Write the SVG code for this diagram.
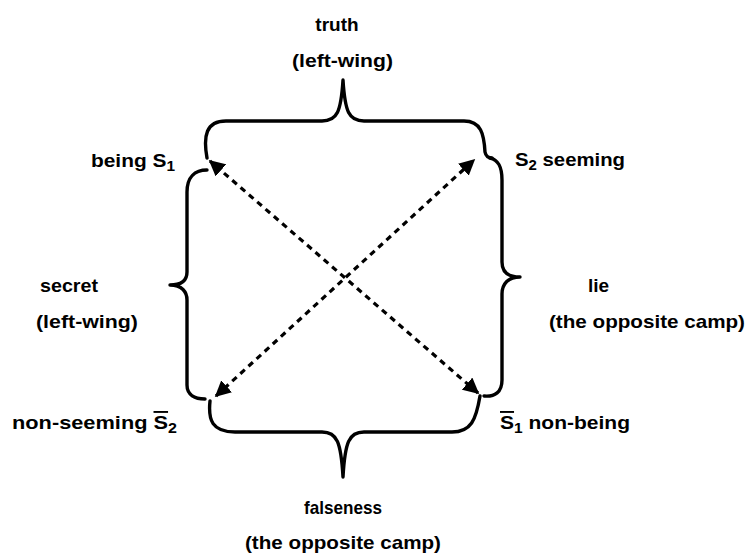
<svg xmlns="http://www.w3.org/2000/svg" width="750" height="556" viewBox="0 0 750 556">
<style>
.lbl{font-family:"Liberation Sans",Arial,sans-serif;font-weight:bold;font-size:19px;fill:#000}
.mid{text-anchor:middle}
.brace{fill:none;stroke:#000;stroke-width:3.4;stroke-linecap:round;stroke-linejoin:round}
.arr{fill:none;stroke:#000;stroke-width:3.2;stroke-dasharray:6,5}
.sub{font-size:14px}
</style>
<defs>
<marker id="ah" viewBox="0 0 10 10" refX="9" refY="5" markerWidth="5" markerHeight="5" markerUnits="strokeWidth" orient="auto-start-reverse">
<path d="M0,0 L10,5 L0,10 z" fill="#000"/>
</marker>
</defs>
<rect width="750" height="556" fill="#fff"/>
<g id="braces">
<g id="top-brace"><path class="brace" d="M207,158 C203,136 206,121 226,121 L322,121 C337,121 341,112 343,80 C345,112 349,121 364,121 L464,121 C481,121 484,134 485,152 C486,157 489,158 492,158"/></g>
<g id="right-brace"><path class="brace" d="M490,158 C498,160 502,166 502,180 L502,262 C502,272 508,277 520,277 C508,277 502,284 502,294 L502,380 C502,392 495,397 484,396"/></g>
<g id="left-brace"><path class="brace" d="M207,170 C195,170 187,177 187,192 L187,272 C187,280 182,285 170,285 C182,285 187,292 187,300 L187,385 C187,395 195,399 205,399"/></g>
<g id="bottom-brace"><path class="brace" d="M210,401 C208,420 212,432 235,432 L322,432 C337,432 341,442 343,477 C345,442 349,432 364,432 L452,432 C471,432 476,420 480,396"/></g>
</g>
<g id="connectors">
<line class="arr" x1="478" y1="393" x2="210" y2="161" marker-start="url(#ah)" marker-end="url(#ah)"/>
<line class="arr" x1="216" y1="396" x2="474" y2="160" marker-start="url(#ah)" marker-end="url(#ah)"/>
</g>
<g id="truth"><text class="lbl mid" x="337" y="31">truth</text><text class="lbl" x="292" y="67" textLength="101" lengthAdjust="spacingAndGlyphs">(left-wing)</text></g>
<g id="being"><text class="lbl" x="91" y="167" textLength="84" lengthAdjust="spacingAndGlyphs">being S<tspan class="sub" dy="4">1</tspan></text></g>
<g id="seeming"><text class="lbl" x="515" y="166" textLength="110" lengthAdjust="spacingAndGlyphs">S<tspan class="sub" dy="4">2</tspan><tspan dy="-4"> seeming</tspan></text></g>
<g id="secret"><text class="lbl" x="40" y="292" textLength="58" lengthAdjust="spacingAndGlyphs">secret</text><text class="lbl" x="36" y="328" textLength="102" lengthAdjust="spacingAndGlyphs">(left-wing)</text></g>
<g id="lie"><text class="lbl" x="588" y="292">lie</text><text class="lbl" x="549" y="328" textLength="196" lengthAdjust="spacingAndGlyphs">(the opposite camp)</text></g>
<g id="non-seeming"><text class="lbl" x="12" y="429" textLength="165" lengthAdjust="spacingAndGlyphs">non-seeming <tspan text-decoration="overline">S</tspan><tspan class="sub" dy="4">2</tspan></text></g>
<g id="non-being"><text class="lbl" x="500" y="429" textLength="130" lengthAdjust="spacingAndGlyphs"><tspan text-decoration="overline">S</tspan><tspan class="sub" dy="4">1</tspan><tspan dy="-4"> non-being</tspan></text></g>
<g id="falseness"><text class="lbl mid" x="343" y="514" textLength="78" lengthAdjust="spacingAndGlyphs">falseness</text><text class="lbl mid" x="343" y="549" textLength="196" lengthAdjust="spacingAndGlyphs">(the opposite camp)</text></g>
</svg>
